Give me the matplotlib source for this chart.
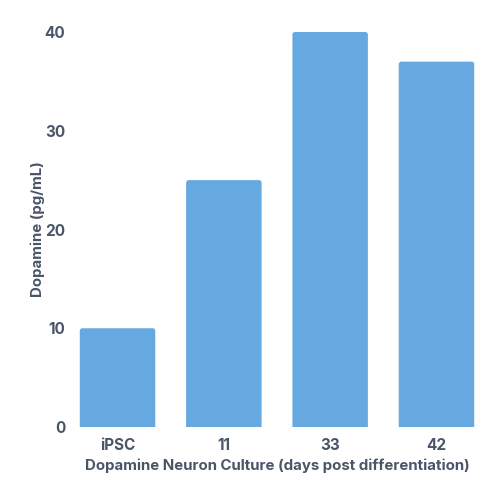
import matplotlib
matplotlib.use('Agg')
import matplotlib.pyplot as plt
from matplotlib.patches import FancyBboxPatch

categories = ['iPSC', '11', '33', '42']
dopamine = [10, 25, 40, 37]
yticks = [0, 10, 20, 30, 40]

text_color = '#4a5568'
bar_color = '#66a9e0'

plt.rcParams['font.family'] = ['Inter', 'DejaVu Sans']

fig = plt.figure(figsize=(5, 5), dpi=100)
ax = fig.add_axes([0.15, 0.146, 0.808, 0.79])

width = 0.71
# rounded top corners: correct for x/y data scale difference
aspect = (404 / 3.8) / 9.875
for i, v in enumerate(dopamine):
    p = FancyBboxPatch((i - width / 2, -2), width, v + 2,
                       boxstyle='round,pad=0,rounding_size=0.025',
                       mutation_aspect=aspect,
                       facecolor=bar_color, edgecolor='none')
    ax.add_patch(p)

ax.set_xlim(-0.4, len(categories) - 0.6)
ax.set_ylim(0, 40)
ax.set_xticks(range(len(categories)))
ax.set_xticklabels(categories)
ax.set_yticks(yticks)
for s in ax.spines.values():
    s.set_visible(False)
ax.tick_params(length=0, labelsize=11, labelcolor=text_color)
ax.tick_params(axis='x', pad=8)
ax.tick_params(axis='y', pad=7)
for lab in ax.get_xticklabels() + ax.get_yticklabels():
    lab.set_fontweight('bold')

ax.set_xlabel('Dopamine Neuron Culture (days post differentiation)',
              fontsize=10.8, fontweight='bold', color=text_color, labelpad=4)
ax.set_ylabel('Dopamine (pg/mL)', fontsize=10.8, fontweight='bold',
              color=text_color, labelpad=0)

fig.savefig('out.png', dpi=100)
